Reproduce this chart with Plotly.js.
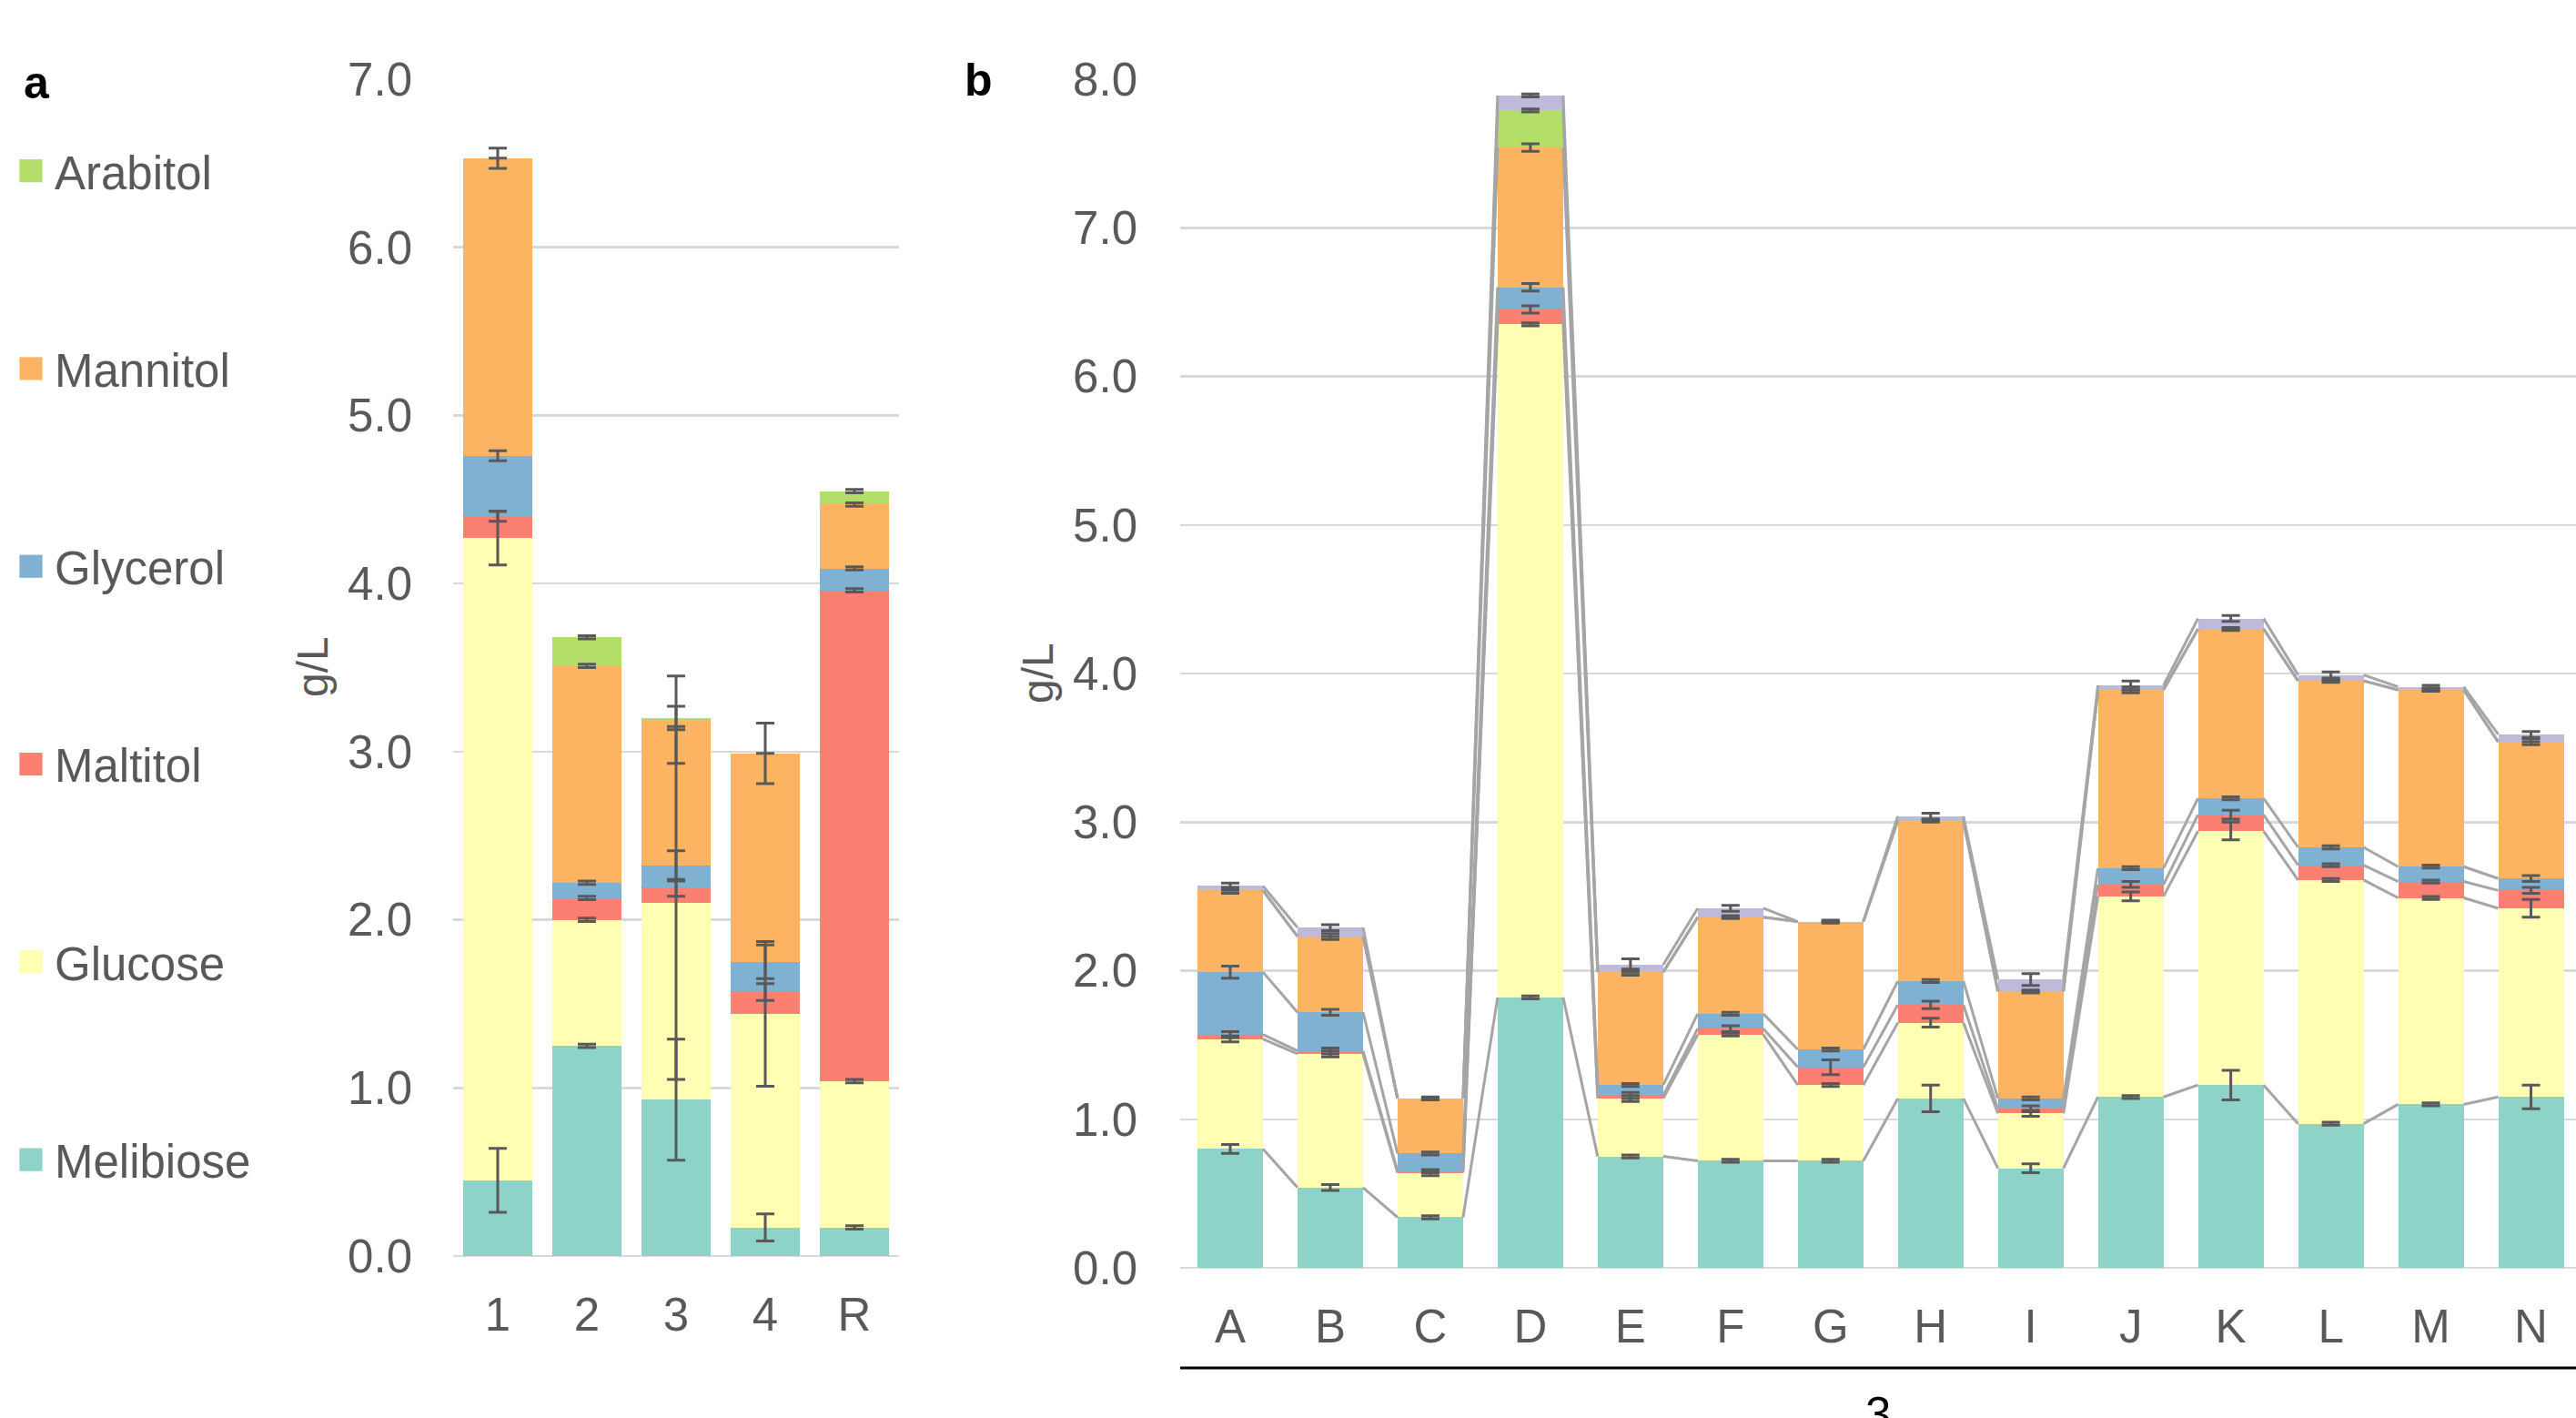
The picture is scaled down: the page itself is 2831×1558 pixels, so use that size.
<!DOCTYPE html>
<html>
<head>
<meta charset="utf-8">
<script src="https://cdn.plot.ly/plotly-3.0.1.min.js"></script>
<style>
html,body{margin:0;padding:0;background:#ffffff;overflow:hidden}
#chart{width:2831px;height:1558px}
</style>
</head>
<body>
<div id="chart"></div>
<script>
// ---------- data ----------
const seriesNames = ['Melibiose', 'Glucose', 'Maltitol', 'Glycerol', 'Mannitol', 'Arabitol', 'Other'];
const seriesColors = ['#8DD3C7', '#FFFFB3', '#FB8072', '#80B1D3', '#FDB462', '#B3DE69', '#BEBADA'];

// Panel a
const aCategories = ['1', '2', '3', '4', 'R'];
const aMelibiose = [0.45, 1.25, 0.93, 0.17, 0.17];
const aGlucose   = [3.82, 0.75, 1.17, 1.27, 0.87];
const aMaltitol  = [0.13, 0.13, 0.09, 0.13, 2.92];
const aGlycerol  = [0.36, 0.09, 0.13, 0.18, 0.13];
const aMannitol  = [1.77, 1.29, 0.87, 1.24, 0.38];
const aArabitol  = [0.00, 0.17, 0.01, 0.00, 0.08];

const aMelibioseErr = [0.19, 0.01, 0.36, 0.08, 0.01];
const aGlucoseErr   = [0.16, 0.01, 1.05, 0.43, 0.01];
const aMaltitolErr  = [0.03, 0.01, 0.05, 0.05, 0.01];
const aGlycerolErr  = [0.03, 0.01, 0.09, 0.10, 0.01];
const aMannitolErr  = [0.06, 0.01, 0.26, 0.18, 0.01];
const aArabitolErr  = [null, 0.01, 0.07, null, 0.01];

// Panel b
const bCategories = ['A', 'B', 'C', 'D', 'E', 'F', 'G', 'H', 'I', 'J', 'K', 'L', 'M', 'N'];
const bGroupLabel = '3';
const bMelibiose = [0.80, 0.54, 0.34, 1.82, 0.75, 0.72, 0.72, 1.14, 0.67, 1.15, 1.23, 0.97, 1.10, 1.15];
const bGlucose   = [0.74, 0.90, 0.30, 4.53, 0.39, 0.85, 0.51, 0.51, 0.37, 1.35, 1.71, 1.64, 1.39, 1.27];
const bMaltitol  = [0.03, 0.02, 0.01, 0.10, 0.02, 0.04, 0.12, 0.12, 0.03, 0.08, 0.11, 0.10, 0.11, 0.12];
const bGlycerol  = [0.42, 0.26, 0.12, 0.15, 0.07, 0.10, 0.12, 0.16, 0.07, 0.11, 0.11, 0.12, 0.10, 0.08];
const bMannitol  = [0.55, 0.51, 0.37, 0.94, 0.76, 0.65, 0.86, 1.08, 0.72, 1.20, 1.14, 1.12, 1.19, 0.92];
const bArabitol  = [0.00, 0.00, 0.00, 0.25, 0.00, 0.00, 0.00, 0.00, 0.00, 0.00, 0.00, 0.00, 0.00, 0.00];
const bOther     = [0.03, 0.06, 0.00, 0.10, 0.05, 0.06, 0.00, 0.03, 0.08, 0.03, 0.07, 0.04, 0.02, 0.05];

const bMelibioseErr = [0.03, 0.02, 0.01, 0.01, 0.01, 0.01, 0.01, 0.09, 0.03, 0.01, 0.10, 0.01, 0.01, 0.08];
const bGlucoseErr   = [0.02, 0.02, 0.02, 0.01, 0.02, 0.01, 0.01, 0.03, 0.02, 0.03, 0.06, 0.01, 0.01, 0.06];
const bMaltitolErr  = [0.02, 0.02, 0.01, 0.025, 0.02, 0.02, 0.05, 0.025, 0.02, 0.02, 0.03, 0.01, 0.01, 0.02];
const bGlycerolErr  = [0.04, 0.02, 0.01, 0.025, 0.01, 0.01, 0.01, 0.01, 0.01, 0.01, 0.01, 0.01, 0.01, 0.02];
const bMannitolErr  = [0.02, 0.02, 0.01, 0.025, 0.02, 0.01, 0.01, 0.01, 0.01, 0.02, 0.01, 0.01, 0.01, 0.02];
const bArabitolErr  = [null, null, null, 0.01, null, null, null, null, null, null, null, null, null, null];
const bOtherErr     = [0.02, 0.02, null, 0.01, 0.04, 0.02, null, 0.02, 0.04, 0.03, 0.02, 0.02, 0.01, 0.02];

const aSeries = [aMelibiose, aGlucose, aMaltitol, aGlycerol, aMannitol, aArabitol];
const aErrors = [aMelibioseErr, aGlucoseErr, aMaltitolErr, aGlycerolErr, aMannitolErr, aArabitolErr];
const bSeries = [bMelibiose, bGlucose, bMaltitol, bGlycerol, bMannitol, bArabitol, bOther];
const bErrors = [bMelibioseErr, bGlucoseErr, bMaltitolErr, bGlycerolErr, bMannitolErr, bArabitolErr, bOtherErr];

// ---------- layout constants ----------
const W = 2831, H = 1558;
const px = v => v / W;
const py = v => 1 - v / H;
const FONT = 'Liberation Sans, Arial, sans-serif';
const TXT = '#595959';
const GRID = '#D9D9D9';
const ERRC = '#595959';
const aBarWidth = 0.77, bBarWidth = 0.655;

function cumulative(seriesList) {
  const out = [];
  let run = seriesList[0].map(() => 0);
  seriesList.forEach(s => {
    run = run.map((r, i) => r + s[i]);
    out.push(run.slice());
  });
  return out;
}

const traces = [];
const aX = aCategories.map((_, i) => i);
const bX = bCategories.map((_, i) => i);

// panel a bars (legend: topmost stacked series listed first)
aSeries.forEach((vals, k) => {
  traces.push({
    type: 'bar', x: aX, y: vals, width: aBarWidth,
    name: seriesNames[k], legendgroup: seriesNames[k], legendrank: aSeries.length - k,
    marker: {color: seriesColors[k], line: {width: 0}},
    xaxis: 'x', yaxis: 'y', hoverinfo: 'skip'
  });
});
// panel b bars
bSeries.forEach((vals, k) => {
  traces.push({
    type: 'bar', x: bX, y: vals, width: bBarWidth,
    name: seriesNames[k], showlegend: false,
    marker: {color: seriesColors[k], line: {width: 0}},
    xaxis: 'x2', yaxis: 'y2', hoverinfo: 'skip'
  });
});

// panel b series lines (connect segment tops between adjacent bars)
const bCum = cumulative(bSeries);
bCum.forEach(cum => {
  const xs = [], ys = [];
  for (let i = 0; i < cum.length - 1; i++) {
    xs.push(bX[i] + bBarWidth / 2, bX[i + 1] - bBarWidth / 2, null);
    ys.push(cum[i], cum[i + 1], null);
  }
  traces.push({
    type: 'scatter', mode: 'lines', x: xs, y: ys,
    line: {color: '#A5A5A5', width: 3}, connectgaps: false,
    showlegend: false, hoverinfo: 'skip', xaxis: 'x2', yaxis: 'y2'
  });
});

// error bars at the top of each stacked segment (drawn above the bars)
function errTrace(x, cum, err, xa, ya) {
  return {
    type: 'scatter', mode: 'markers', x: x, y: cum,
    marker: {size: 2, opacity: 0},
    error_y: {type: 'data', array: err, symmetric: true, color: ERRC, thickness: 3, width: 10},
    showlegend: false, hoverinfo: 'skip', xaxis: xa, yaxis: ya
  };
}
const aCum = cumulative(aSeries);
aCum.forEach((cum, k) => traces.push(errTrace(aX, cum, aErrors[k], 'x', 'y')));
bCum.forEach((cum, k) => traces.push(errTrace(bX, cum, bErrors[k], 'x2', 'y2')));

const yCommon = {
  showgrid: true, gridcolor: GRID, gridwidth: 2.5,
  zeroline: true, zerolinecolor: GRID, zerolinewidth: 2.5,
  showline: false, ticks: '', dtick: 1, tickformat: '.1f',
  tickfont: {family: FONT, size: 51, color: TXT}, fixedrange: true
};
const xCommon = {
  showgrid: false, zeroline: false, showline: false, ticks: '',
  tickfont: {family: FONT, size: 51, color: TXT}, fixedrange: true
};

const layout = {
  width: W, height: H,
  margin: {l: 0, r: 0, t: 0, b: 0, pad: 0},
  paper_bgcolor: '#ffffff', plot_bgcolor: '#ffffff',
  barmode: 'stack',
  showlegend: true,
  font: {family: FONT, color: TXT},
  legend: {
    x: px(20), xanchor: 'left', y: py(148), yanchor: 'top',
    traceorder: 'grouped', tracegroupgap: 148,
    font: {family: FONT, size: 51, color: TXT},
    bgcolor: 'rgba(0,0,0,0)', borderwidth: 0
  },
  xaxis: Object.assign({}, xCommon, {
    domain: [px(498), px(988)], range: [-0.5, 4.5],
    tickvals: aX, ticktext: aCategories, anchor: 'y', ticklabelstandoff: 30
  }),
  yaxis: Object.assign({}, yCommon, {
    domain: [py(1380), py(87)], range: [0, 7], anchor: 'x', ticklabelstandoff: 44
  }),
  xaxis2: Object.assign({}, xCommon, {
    domain: [px(1297), 1], range: [-0.5, 13.45],
    tickvals: bX, ticktext: bCategories, anchor: 'y2', ticklabelstandoff: 30
  }),
  yaxis2: Object.assign({}, yCommon, {
    domain: [py(1393), py(87)], range: [0, 8], anchor: 'x2', ticklabelstandoff: 46
  }),
  annotations: [
    {text: '<b>a</b>', x: px(40), y: py(91), xref: 'paper', yref: 'paper',
     xanchor: 'center', yanchor: 'middle', showarrow: false,
     font: {family: FONT, size: 50, color: '#000000'}},
    {text: '<b>b</b>', x: px(1075), y: py(88), xref: 'paper', yref: 'paper',
     xanchor: 'center', yanchor: 'middle', showarrow: false,
     font: {family: FONT, size: 50, color: '#000000'}},
    {text: 'g/L', x: px(343), y: py(733), xref: 'paper', yref: 'paper', textangle: -90,
     xanchor: 'center', yanchor: 'middle', showarrow: false,
     font: {family: FONT, size: 48, color: TXT}},
    {text: 'g/L', x: px(1140), y: py(740), xref: 'paper', yref: 'paper', textangle: -90,
     xanchor: 'center', yanchor: 'middle', showarrow: false,
     font: {family: FONT, size: 48, color: TXT}},
    {text: bGroupLabel, x: 0.5, y: py(1553), xref: 'x2 domain', yref: 'paper',
     xanchor: 'center', yanchor: 'middle', showarrow: false,
     font: {family: FONT, size: 51, color: '#000000'}}
  ],
  shapes: [
    {type: 'line', xref: 'x2 domain', yref: 'paper', x0: 0, x1: 1, y0: py(1503), y1: py(1503),
     line: {color: '#000000', width: 3}}
  ]
};

Plotly.newPlot('chart', traces, layout, {staticPlot: true, displayModeBar: false}).then(gd => {
  // enlarge the legend colour squares to match the reference key size,
  // nudging them left to leave a gap before the label text
  gd.querySelectorAll('.legend .legendpoints path').forEach(p => {
    const t = p.getAttribute('transform') || '';
    p.setAttribute('transform', (t + ' translate(-6,0) scale(2.1)').trim());
  });
});
</script>
</body>
</html>
